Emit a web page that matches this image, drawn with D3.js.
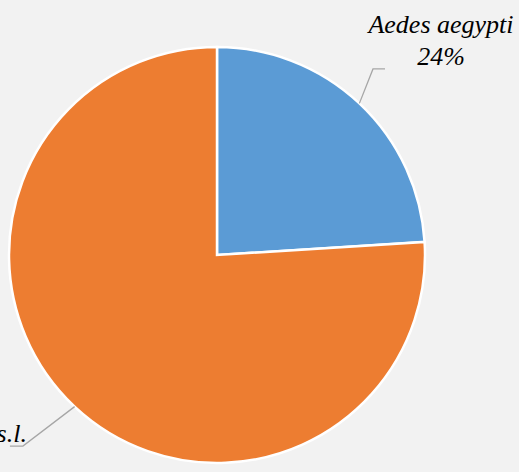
<!DOCTYPE html>
<html>
<head>
<meta charset="UTF-8">
<title>Pie chart</title>
<script src="https://d3js.org/d3.v7.min.js"></script>
<style>
    body { margin: 0; background: #f2f2f2; }
    svg { display: block; }
    .leader { fill: none; stroke: #a6a6a6; stroke-width: 1.3px; }
</style>
</head>
<body>
<svg width="519" height="472"></svg>
<script>
    // Data
    var species = ["Aedes aegypti", "Anopheles gambiae s.l."];
    var values = [24, 76];
    var colors = ["#5b9bd5", "#ed7d31"];

    var cx = 217, cy = 255, radius = 208;

    var svg = d3.select("svg");
    var g = svg.append("g").attr("transform", "translate(" + cx + "," + cy + ")");

    var pie = d3.pie().sort(null).value(function(d) { return d; });
    var arc = d3.arc().innerRadius(0).outerRadius(radius);
    var arcs = pie(values);

    g.selectAll(".slice")
        .data(arcs)
        .enter().append("path")
        .attr("class", "slice")
        .attr("d", arc)
        .attr("fill", function(d, i) { return colors[i]; })
        .attr("stroke", "#fff")
        .attr("stroke-width", 2.5);

    // leader lines: elbow offset from the slice edge, horizontal run, label offset
    // (tx = centre of the label, or its right edge when alignRight)
    var labelCfg = [
        {ex: 13.6, ey: -34.4, run: 12, tx: 56, ty: -36, alignRight: false},
        {ex: -51.7, ey: 39.4, run: -13, tx: 17, ty: -4, alignRight: true}
    ];

    arcs.forEach(function(d, i) {
        var a = (d.startAngle + d.endAngle) / 2;
        var c = labelCfg[i];
        var x0 = radius * Math.sin(a), y0 = -radius * Math.cos(a);
        var x1 = x0 + c.ex, y1 = y0 + c.ey;
        var x2 = x1 + c.run;
        g.append("path")
            .attr("class", "leader")
            .attr("d", "M" + x0 + "," + y0 + "L" + x1 + "," + y1 + "L" + x2 + "," + y1);

        var pct = Math.round(d.value / d3.sum(values) * 100) + "%";
        var lines = [species[i], pct];
        var texts = lines.map(function(s, k) {
            return g.append("text")
                .attr("font-family", "Liberation Serif")
                .attr("font-style", "italic")
                .attr("font-size", 26)
                .attr("fill", "#000")
                .attr("text-anchor", "middle")
                .attr("y", y1 + c.ty + k * 32)
                .text(s);
        });
        var xc = x2 + c.tx;
        if (c.alignRight) xc -= texts[0].node().getComputedTextLength() / 2;
        texts.forEach(function(t) { t.attr("x", xc); });
    });
</script>
</body>
</html>
